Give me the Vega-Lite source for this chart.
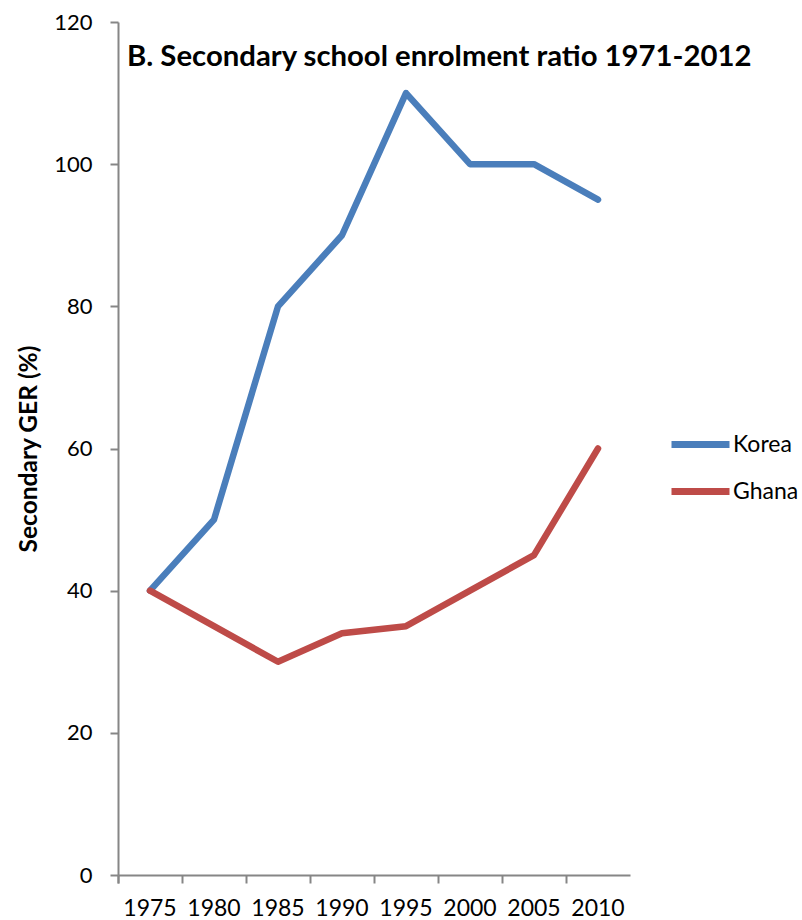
{
  "$schema": "https://vega.github.io/schema/vega-lite/v6.json",
  "width": 512,
  "height": 853,
  "autosize": {"type": "none"},
  "padding": {"left": 118, "top": 22, "right": 172, "bottom": 45},
  "background": "white",
  "config": {"view": {"stroke": null}, "font": "Lato"},
  "title": {
    "text": "B. Secondary school enrolment ratio 1971-2012",
    "anchor": "start",
    "frame": "group",
    "offset": 0,
    "baseline": "alphabetic",
    "dx": 9,
    "dy": 84,
    "font": "Lato",
    "fontSize": 29.3,
    "fontWeight": "bold",
    "color": "#000000"
  },
  "data": {
    "values": [
      {"year": "1975", "country": "Korea", "ger": 40},
      {"year": "1980", "country": "Korea", "ger": 50},
      {"year": "1985", "country": "Korea", "ger": 80},
      {"year": "1990", "country": "Korea", "ger": 90},
      {"year": "1995", "country": "Korea", "ger": 110},
      {"year": "2000", "country": "Korea", "ger": 100},
      {"year": "2005", "country": "Korea", "ger": 100},
      {"year": "2010", "country": "Korea", "ger": 95},
      {"year": "1975", "country": "Ghana", "ger": 40},
      {"year": "1980", "country": "Ghana", "ger": 35},
      {"year": "1985", "country": "Ghana", "ger": 30},
      {"year": "1990", "country": "Ghana", "ger": 34},
      {"year": "1995", "country": "Ghana", "ger": 35},
      {"year": "2000", "country": "Ghana", "ger": 40},
      {"year": "2005", "country": "Ghana", "ger": 45},
      {"year": "2010", "country": "Ghana", "ger": 60}
    ]
  },
  "mark": {"type": "line", "strokeWidth": 6.5, "strokeCap": "round", "strokeJoin": "round"},
  "encoding": {
    "x": {
      "field": "year",
      "type": "ordinal",
      "bandPosition": 0.5,
      "scale": {"type": "band", "paddingInner": 0, "paddingOuter": 0},
      "axis": {
        "title": null,
        "bandPosition": 0,
        "tickExtra": true,
        "labelAngle": 0,
        "grid": false,
        "domainColor": "#868686",
        "domainWidth": 2,
        "tickColor": "#868686",
        "tickWidth": 2,
        "tickSize": 8,
        "labelFont": "Lato",
        "labelFontSize": 23,
        "labelColor": "#000000",
        "labelPadding": 14
      }
    },
    "y": {
      "field": "ger",
      "type": "quantitative",
      "scale": {"domain": [0, 120], "nice": false},
      "axis": {
        "title": "Secondary GER (%)",
        "titleFont": "Lato",
        "titleFontSize": 24.5,
        "titleFontWeight": "bold",
        "titleColor": "#000000",
        "titlePadding": 12,
        "values": [0, 20, 40, 60, 80, 100, 120],
        "grid": false,
        "domainColor": "#868686",
        "domainWidth": 2,
        "tickColor": "#868686",
        "tickWidth": 2,
        "tickSize": 8,
        "labelFont": "Lato",
        "labelFontSize": 22,
        "labelColor": "#000000",
        "labelPadding": 18
      }
    },
    "color": {
      "field": "country",
      "type": "nominal",
      "scale": {"domain": ["Korea", "Ghana"], "range": ["#4A7EBB", "#BE4B48"]},
      "legend": {
        "title": null,
        "orient": "none",
        "legendX": 550,
        "legendY": 390,
        "padding": 0,
        "symbolType": "stroke",
        "symbolSize": 3364,
        "symbolStrokeWidth": 7,
        "labelFont": "Lato",
        "labelFontSize": 23,
        "labelColor": "#000000",
        "labelOffset": 0,
        "rowPadding": 0
      }
    }
  }
}
